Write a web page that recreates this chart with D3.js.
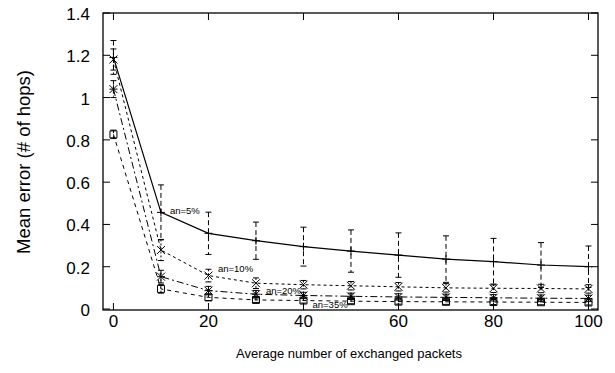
<!DOCTYPE html>
<html>
<head>
<meta charset="utf-8">
<script src="https://cdn.jsdelivr.net/npm/d3@7/dist/d3.min.js"></script>
<style>
  body { margin: 0; background: #fff; }
  text { font-family: "Liberation Sans", Arial, Helvetica, sans-serif; fill: #000; }
</style>
</head>
<body>
<div id="chart"></div>
<script>
// packets exchanged (x) and mean error per anchor ratio
var packets = [0, 10, 20, 30, 40, 50, 60, 70, 80, 90, 100];
var an5 = [1.19, 0.457, 0.358, 0.323, 0.295, 0.274, 0.255, 0.236, 0.224, 0.208, 0.2];
var an5Err = [0.08, 0.13, 0.1, 0.088, 0.092, 0.1, 0.105, 0.11, 0.11, 0.106, 0.098];
var an10 = [1.18, 0.279, 0.158, 0.122, 0.115, 0.11, 0.105, 0.1, 0.098, 0.097, 0.095];
var an10Err = [0.05, 0.05, 0.03, 0.025, 0.02, 0.02, 0.02, 0.02, 0.02, 0.02, 0.02];
var an20 = [1.04, 0.153, 0.087, 0.07, 0.064, 0.06, 0.057, 0.055, 0.053, 0.051, 0.05];
var an20Err = [0.04, 0.03, 0.02, 0.018, 0.015, 0.015, 0.015, 0.015, 0.015, 0.015, 0.015];
var an35 = [0.826, 0.095, 0.055, 0.043, 0.04, 0.037, 0.035, 0.034, 0.033, 0.032, 0.031];
var an35Err = [0.02, 0.02, 0.015, 0.012, 0.012, 0.012, 0.012, 0.012, 0.012, 0.012, 0.012];
var xTicks = [0, 20, 40, 60, 80, 100];
var yTicks = [0, 0.2, 0.4, 0.6, 0.8, 1, 1.2, 1.4];
var labels = ["an=5%", "an=10%", "an=20%", "an=35%"];
var labelPos = [[11.9, 0.449], [22, 0.176], [32.1, 0.073], [41.9, 0.006]];

var width = 615, height = 373;
var plotL = 103, plotR = 598, plotT = 13, plotB = 310;

var svg = d3.select("#chart").append("svg")
  .attr("width", width)
  .attr("height", height);

var x = d3.scaleLinear().domain([-2.2, 102]).range([plotL, plotR]);
var y = d3.scaleLinear().domain([0, 1.4]).range([plotB - 1, plotT]);

// frame
svg.append("rect")
  .attr("x", plotL).attr("y", plotT)
  .attr("width", plotR - plotL).attr("height", plotB - plotT)
  .attr("fill", "none").attr("stroke", "#000").attr("stroke-width", 1.3);

var tickLen = 7;
// x ticks bottom and top, y ticks left and right (gnuplot mirror style)
var ax = svg.append("g");
xTicks.forEach(function (t) {
  ax.append("line").attr("x1", x(t)).attr("x2", x(t)).attr("y1", plotB).attr("y2", plotB - tickLen).attr("stroke", "#000");
  ax.append("line").attr("x1", x(t)).attr("x2", x(t)).attr("y1", plotT).attr("y2", plotT + tickLen).attr("stroke", "#000");
  ax.append("text").attr("x", x(t)).attr("y", plotB + 17)
    .attr("text-anchor", "middle").style("font-size", "17px").text(t);
});
yTicks.forEach(function (t) {
  ax.append("line").attr("x1", plotL).attr("x2", plotL + tickLen).attr("y1", y(t)).attr("y2", y(t)).attr("stroke", "#000");
  ax.append("line").attr("x1", plotR).attr("x2", plotR - tickLen).attr("y1", y(t)).attr("y2", y(t)).attr("stroke", "#000");
  ax.append("text").attr("x", 90).attr("y", y(t) + 7)
    .attr("text-anchor", "end").style("font-size", "17px").text(t);
});

svg.append("text")
  .attr("x", 349).attr("y", 358)
  .attr("text-anchor", "middle").style("font-size", "13px")
  .text("Average number of exchanged packets");

svg.append("text")
  .attr("transform", "translate(30," + 162 + ") rotate(-90)")
  .attr("text-anchor", "middle").style("font-size", "18.5px")
  .text("Mean error (# of hops)");

var series = [
  { vals: an5, err: an5Err, dash: null, errDash: "5,3", marker: "plus", lw: 1.2 },
  { vals: an10, err: an10Err, dash: "3,3", errDash: "2,2", marker: "cross", lw: 1 },
  { vals: an20, err: an20Err, dash: "7,3,2,3", errDash: "4,2,1,2", marker: "star", lw: 1 },
  { vals: an35, err: an35Err, dash: "4,4", errDash: "3,3", marker: "square", lw: 1 }
];

var line = d3.line()
  .x(function (d) { return x(d.x); })
  .y(function (d) { return y(d.y); });

series.forEach(function (s) {
  var pts = packets.map(function (p, i) { return { x: p, y: s.vals[i], e: s.err[i] }; });
  var g = svg.append("g");

  g.append("path")
    .datum(pts)
    .attr("d", line)
    .attr("fill", "none")
    .attr("stroke", "#000")
    .attr("stroke-width", s.lw)
    .attr("stroke-dasharray", s.dash);

  // error bars
  var eb = g.selectAll(".eb").data(pts).enter().append("g");
  eb.append("line")
    .attr("x1", function (d) { return x(d.x); }).attr("x2", function (d) { return x(d.x); })
    .attr("y1", function (d) { return y(d.y + d.e); }).attr("y2", function (d) { return y(Math.max(0, d.y - d.e)); })
    .attr("stroke", "#000").attr("stroke-dasharray", s.errDash);
  [1, -1].forEach(function (sg) {
    eb.append("line")
      .attr("x1", function (d) { return x(d.x) - 3; }).attr("x2", function (d) { return x(d.x) + 3; })
      .attr("y1", function (d) { return y(Math.max(0, d.y + sg * d.e)); })
      .attr("y2", function (d) { return y(Math.max(0, d.y + sg * d.e)); })
      .attr("stroke", "#000");
  });

  // markers
  var r = 4;
  var mk = g.selectAll(".mk").data(pts).enter().append("path")
    .attr("transform", function (d) { return "translate(" + x(d.x) + "," + y(d.y) + ")"; })
    .attr("fill", "none").attr("stroke", "#000").attr("stroke-width", 1);
  mk.attr("d", function () {
    if (s.marker === "plus") return "M" + -r + ",0H" + r + "M0," + -r + "V" + r;
    if (s.marker === "cross") return "M" + -r + "," + -r + "L" + r + "," + r + "M" + -r + "," + r + "L" + r + "," + -r;
    if (s.marker === "star") return "M" + -r + ",0H" + r + "M0," + -r + "V" + r +
      "M" + -r + "," + -r + "L" + r + "," + r + "M" + -r + "," + r + "L" + r + "," + -r;
    return "M" + -3.5 + "," + -3.5 + "h7v7h-7z";
  });
});

// series labels
labels.forEach(function (l, i) {
  svg.append("text")
    .attr("x", x(labelPos[i][0])).attr("y", y(labelPos[i][1]))
    .style("font-size", "9.5px")
    .text(l);
});
</script>
</body>
</html>
